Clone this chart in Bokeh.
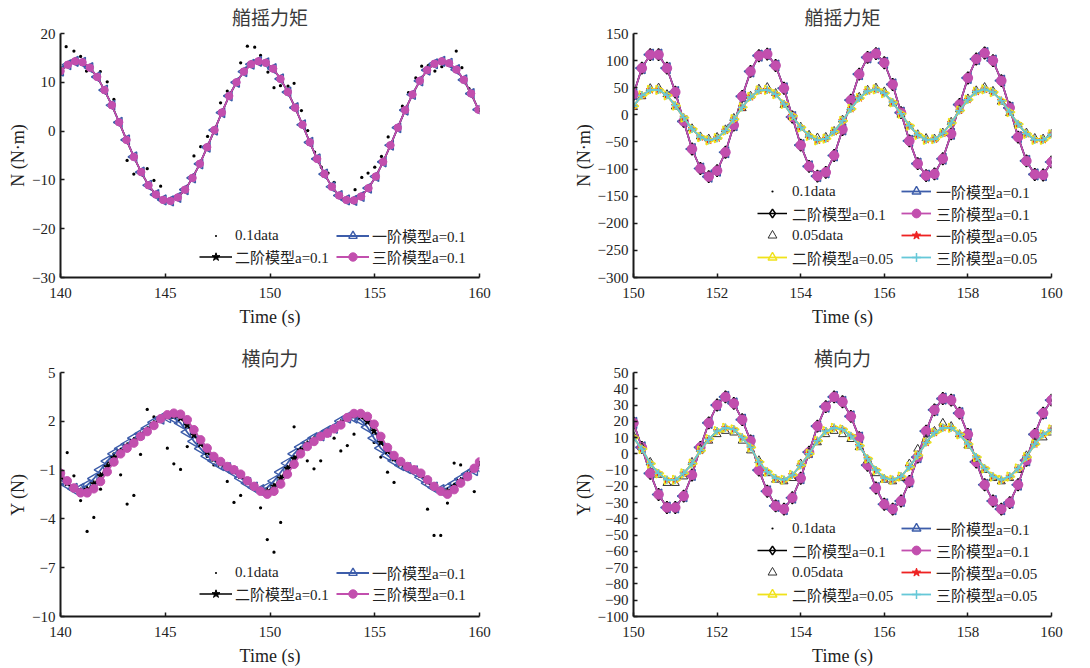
import math
from bokeh.plotting import figure
from bokeh.models import Range1d, FixedTicker, Legend, LegendItem
from bokeh.layouts import column, row
from bokeh.embed import file_html
from bokeh.resources import INLINE

FONT = "Liberation Serif, Noto Sans CJK SC"
BLUE = "#3d5daa"
MAG = "#c24fae"
BLACK = "#000000"
RED = "#ee2222"
YEL = "#f0e21a"
CYAN = "#66c8d8"

# ---------------- data: top-left (yaw moment, a=0.1) ----------------
tl_t = [140.0, 140.35, 140.7, 141.05, 141.4, 141.75, 142.1, 142.45, 142.8, 143.15,
        143.5, 143.85, 144.2, 144.55, 144.9, 145.25, 145.6, 145.95, 146.3, 146.65,
        147.0, 147.35, 147.7, 148.05, 148.4, 148.75, 149.1, 149.45, 149.8, 150.15,
        150.5, 150.85, 151.2, 151.55, 151.9, 152.25, 152.6, 152.95, 153.3, 153.65,
        154.0, 154.35, 154.7, 155.05, 155.4, 155.75, 156.1, 156.45, 156.8, 157.15,
        157.5, 157.85, 158.2, 158.55, 158.9, 159.25, 159.6, 159.95]
tl_model = [12.3, 13.6, 14.3, 14.1, 13.0, 11.1, 8.4, 5.3, 1.8, -1.8,
            -5.3, -8.4, -11.1, -13.0, -14.1, -14.3, -13.6, -12.0, -9.6, -6.7,
            -3.3, 0.2, 3.8, 7.2, 10.0, 12.2, 13.7, 14.3, 14.0, 12.8,
            10.7, 8.0, 4.8, 1.3, -2.3, -5.7, -8.8, -11.4, -13.2, -14.1,
            -14.2, -13.4, -11.7, -9.3, -6.3, -2.9, 0.7, 4.3, 7.5, 10.3,
            12.5, 13.8, 14.3, 13.9, 12.6, 10.5, 7.7, 4.4]
tl_data_t = [140.27, 140.64, 140.96, 141.24, 141.9, 142.23, 142.55, 143.18, 143.5, 144.14,
             144.46, 144.78, 146.37, 146.69, 147.02, 147.64, 147.96, 148.6, 148.92, 149.27,
             149.55, 149.9, 150.19, 150.5, 150.86, 151.15, 151.5, 151.8, 152.13, 152.45,
             152.77, 153.06, 153.38, 154.06, 154.38, 154.68, 155.0, 155.32, 155.64, 156.32,
             156.61, 156.96, 157.24, 157.55, 157.87, 158.2, 158.55, 158.89, 159.16, 159.5]
tl_data = [17.3, 16.4, 15.3, 12.3, 12.2, 10.1, 6.5, -6.0, -8.8, -7.7,
           -10.1, -11.3, -5.1, -3.2, -1.1, 5.8, 8.2, 14.0, 17.4, 17.2,
           15.5, 12.1, 8.9, 9.3, 9.2, 9.8, 4.2, 0.1, -4.3, -7.4,
           -8.6, -10.5, -13.1, -12.0, -9.5, -8.6, -7.4, -5.2, -1.2, 5.1,
           7.9, 10.9, 13.3, 13.4, 12.3, 13.2, 14.3, 16.4, 13.0, 8.7]

# ---------------- data: bottom-left (lateral force, a=0.1) ----------------
bl_t = [140.0, 140.32, 140.64, 140.96, 141.27, 141.59, 141.91, 142.23, 142.55, 142.87,
        143.18, 143.5, 143.82, 144.14, 144.46, 144.78, 145.1, 145.41, 145.73, 146.05,
        146.37, 146.69, 147.0, 147.32, 147.64, 147.96, 148.28, 148.6, 148.92, 149.24,
        149.55, 149.87, 150.19, 150.51, 150.83, 151.15, 151.46, 151.78, 152.1, 152.42,
        152.74, 153.06, 153.38, 153.69, 154.01, 154.33, 154.65, 154.97, 155.29, 155.61,
        155.92, 156.24, 156.56, 156.88, 157.2, 157.52, 157.83, 158.15, 158.47, 158.79,
        159.1, 159.43, 159.75, 160.0]
bl_m3 = [-1.19, -1.66, -2.10, -2.40, -2.40, -2.15, -1.70, -1.10, -0.50, 0.00,
         0.35, 0.66, 1.07, 1.37, 1.74, 2.15, 2.40, 2.50, 2.44, 2.10,
         1.48, 0.86, 0.35, -0.16, -0.47, -0.78, -0.98, -1.25, -1.66, -2.00,
         -2.30, -2.48, -2.30, -1.86, -1.25, -0.64, 0.00, 0.45, 0.76, 1.07,
         1.27, 1.54, 1.78, 2.23, 2.48, 2.48, 2.30, 1.82, 1.07, 0.39,
         -0.10, -0.47, -0.78, -0.98, -1.19, -1.60, -2.00, -2.30, -2.48, -2.20,
         -1.80, -1.40, -0.89, -0.50]
bl_m1 = [-1.6, -1.89, -2.16, -2.16, -1.94, -1.53, -0.99, -0.45, 0.0, 0.32,
         0.59, 0.96, 1.23, 1.57, 1.94, 2.16, 2.25, 2.20, 1.89, 1.33,
         0.77, 0.32, -0.14, -0.42, -0.70, -0.88, -1.13, -1.49, -1.80, -2.07,
         -2.23, -2.07, -1.67, -1.13, -0.58, 0.0, 0.41, 0.68, 0.96, 1.14,
         1.39, 1.60, 2.01, 2.23, 2.23, 2.07, 1.64, 0.96, 0.35, -0.09,
         -0.42, -0.70, -0.88, -1.07, -1.44, -1.80, -2.07, -2.23, -2.10, -1.85,
         -1.55, -1.25, -1.0, -0.85]
bl_m2 = [-1.4, -1.8, -2.15, -2.3, -2.2, -1.85, -1.35, -0.8, -0.25, 0.15,
         0.48, 0.8, 1.15, 1.47, 1.85, 2.15, 2.33, 2.35, 2.2, 1.75,
         1.15, 0.6, 0.1, -0.3, -0.6, -0.83, -1.05, -1.35, -1.72, -2.05,
         -2.27, -2.3, -2.0, -1.5, -0.9, -0.3, 0.22, 0.6, 0.86, 1.1,
         1.33, 1.57, 1.9, 2.25, 2.38, 2.3, 1.98, 1.4, 0.7, 0.15,
         -0.28, -0.6, -0.85, -1.03, -1.3, -1.7, -2.05, -2.28, -2.3, -2.0,
         -1.65, -1.3, -0.92, -0.65]
bl_data_t = [140.32, 140.64, 140.96, 141.27, 141.59, 141.91, 142.23, 142.55, 142.87, 143.18,
             143.5, 143.82, 144.14, 144.46, 145.1, 145.41, 145.73, 146.05, 147.0, 147.32,
             147.64, 147.96, 148.28, 148.6, 149.55, 149.87, 150.19, 150.51, 150.83, 151.15,
             151.46, 151.78, 152.1, 152.42, 153.06, 153.38, 153.69, 154.01, 154.97, 155.29,
             155.61, 155.92, 157.52, 157.83, 158.15, 158.47, 158.79, 159.1, 159.43, 159.75]
bl_data = [0.08, -1.35, -2.87, -4.77, -3.91, -2.17, -0.51, 0.0, -1.29, -3.09,
           -2.56, -0.04, 2.73, 2.27, 0.35, -0.61, -0.96, 0.45, -0.16, -0.68,
           -0.37, -1.70, -2.99, -2.56, -3.32, -5.27, -6.05, -4.22, -1.39, 1.66,
           0.25, -0.43, -0.92, -0.43, 0.96, 0.18, 0.51, 1.21, 0.70, -0.20,
           -1.13, -1.76, -3.40, -5.02, -5.02, -3.03, -0.57, -0.68, -1.54, -2.32]

# ---------------- data: right panels (a=0.1 and a=0.05) ----------------
r_t = [150.0, 150.2, 150.4, 150.6, 150.8, 151.0, 151.2, 151.4, 151.6, 151.8,
       152.0, 152.2, 152.4, 152.6, 152.8, 153.0, 153.2, 153.4, 153.6, 153.8,
       154.0, 154.2, 154.4, 154.6, 154.8, 155.0, 155.2, 155.4, 155.6, 155.8,
       156.0, 156.2, 156.4, 156.6, 156.8, 157.0, 157.2, 157.4, 157.6, 157.8,
       158.0, 158.2, 158.4, 158.6, 158.8, 159.0, 159.2, 159.4, 159.6, 159.8, 160.0]
tr_01 = [38, 86, 111, 111, 86, 42, -12, -63, -99, -114,
         -103, -69, -19, 34, 80, 109, 112, 91, 49, -4,
         -56, -95, -113, -106, -75, -27, 27, 75, 106, 113,
         96, 56, 4, -48, -90, -112, -109, -81, -35, 19,
         68, 103, 114, 100, 63, 13, -41, -85, -110, -111, -87]
tr_05 = [16, 36, 46, 46, 36, 17, -5, -26, -41, -47,
         -43, -29, -8, 14, 33, 45, 46, 38, 20, -2,
         -23, -39, -47, -44, -31, -11, 11, 31, 44, 47,
         40, 23, 2, -20, -37, -46, -45, -34, -15, 8,
         28, 43, 47, 42, 26, 5, -17, -35, -46, -46, -36]
tr_05data = [14, 34, 49, 50, 38, 15, -7, -25, -40, -44,
             -41, -27, -6, 12, 35, 48, 51, 40, 18, -4,
             -22, -37, -42, -41, -30, -9, 13, 33, 46, 50,
             43, 21, 0, -21, -36, -43, -44, -33, -13, 10,
             30, 45, 51, 44, 24, 3, -18, -33, -43, -44, -35]
br_01 = [19, 4, -12, -25, -33, -33, -26, -13, 4, 19,
         30, 35, 31, 21, 8, -10, -23, -32, -34, -27,
         -15, 1, 17, 29, 35, 32, 23, 10, -7, -21,
         -31, -34, -29, -17, -2, 14, 27, 34, 33, 25,
         12, -5, -19, -29, -34, -30, -19, -4, 12, 25, 33]
br_05 = [10, 3, -6, -12, -16, -16, -12, -6, 2, 9,
         14, 16, 15, 10, 4, -5, -11, -15, -16, -13,
         -7, 0, 8, 14, 16, 15, 11, 5, -3, -10,
         -15, -16, -14, -8, -1, 7, 13, 16, 16, 12,
         6, -2, -9, -14, -16, -14, -9, -2, 6, 12, 15]
br_05data = [11, 4, -5, -13, -18, -18, -14, -5, 3, 8,
             12, 14, 13, 8, 2, -4, -12, -16, -17, -15,
             -6, 1, 7, 12, 14, 12, 9, 4, -4, -12,
             -16, -17, -15, -6, 3, 9, 14, 19, 17, 12,
             5, -3, -10, -15, -17, -15, -10, -1, 7, 10, 13]

LAB = ["0.1data", "一阶模型a=0.1", "二阶模型a=0.1", "三阶模型a=0.1",
       "0.05data", "一阶模型a=0.05", "二阶模型a=0.05", "三阶模型a=0.05"]


def base_fig(w, ml, mr, mt, mb, xr, yr, xt, yt, title, ylabel, bottom_row):
    p = figure(width=w, height=334, x_range=Range1d(*xr), y_range=Range1d(*yr),
               output_backend="svg", toolbar_location=None,
               min_border_left=ml, min_border_right=mr, min_border_top=mt, min_border_bottom=mb)
    p.title.text = title
    p.title.align = "center"
    p.title.text_font = FONT
    p.title.text_font_size = "19px"
    p.title.text_font_style = "normal"
    p.title.text_color = "#3a3a3a"
    p.title.standoff = 6 if bottom_row else 10
    p.grid.visible = False
    p.outline_line_color = None
    p.xaxis.ticker = FixedTicker(ticks=xt)
    p.yaxis.ticker = FixedTicker(ticks=yt)
    p.xaxis.axis_label = "Time (s)"
    p.yaxis.axis_label = ylabel
    for ax in (p.xaxis[0], p.yaxis[0]):
        ax.axis_line_width = 2
        ax.axis_line_color = "#1a1a1a"
        ax.major_tick_in = 4
        ax.major_tick_out = 0
        ax.major_tick_line_width = 1.5
        ax.major_tick_line_color = "#1a1a1a"
        ax.minor_tick_line_color = None
        ax.major_label_text_font = FONT
        ax.major_label_text_font_size = "15px"
        ax.major_label_text_color = "#222222"
        ax.axis_label_text_font = FONT
        ax.axis_label_text_font_size = "18px"
        ax.axis_label_text_font_style = "normal"
        ax.axis_label_text_color = "#222222"
    p.yaxis.major_label_standoff = 5
    p.yaxis.axis_label_standoff = 1
    p.xaxis.major_label_standoff = 10
    p.xaxis.axis_label_standoff = 6
    return p


def series(p, t, y, color, marker, size, fill=None, angle=0.0, lw=1.8, mlw=1.3, line=True):
    rs = []
    if line:
        rs.append(p.line(t, y, line_color=color, line_width=lw))
    rs.append(p.scatter(t, y, marker=marker, size=size, line_color=color,
                        fill_color=fill, angle=angle, line_width=mlw))
    return rs


def add_legend(p, items, loc, gw, gh, lw, standoff):
    leg = Legend(items=items, location=loc, ncols=2, orientation="vertical",
                 background_fill_alpha=0, border_line_color=None, padding=0, margin=0,
                 spacing=0, glyph_width=gw, glyph_height=gh, label_height=gh,
                 label_width=lw, label_standoff=standoff,
                 label_text_font=FONT, label_text_font_size="15px",
                 label_text_color="#222222")
    p.add_layout(leg)


def left_panel(t, m1, m2, m3, dt, d, yr, yt, title, ylabel, bottom_row, tri, mag, loc):
    mt, mb = (38, 52) if bottom_row else (33, 57)
    p = base_fig(545, 60, 66, mt, mb, (140, 160), yr, [140, 145, 150, 155, 160], yt,
                 title, ylabel, bottom_row)
    r0 = p.scatter(dt, d, marker="dot", size=13, line_color=BLACK, fill_color=BLACK,
                   line_width=1)
    r1 = series(p, t, m1, BLUE, "triangle", tri, fill=None, angle=math.pi / 2, mlw=1.4)
    r2 = series(p, t, m2, BLACK, "star", 7, fill=BLACK, lw=1.5, mlw=1)
    r3 = series(p, t, m3, MAG, "circle", mag, fill=MAG, mlw=1)
    items = [LegendItem(label=LAB[0], renderers=[r0]),
             LegendItem(label=LAB[2], renderers=r2),
             LegendItem(label=LAB[1], renderers=r1),
             LegendItem(label=LAB[3], renderers=r3)]
    add_legend(p, items, loc, 33, 21, 101, 3)
    return p


def right_panel(y01, y05, d05, yr, yt, title, ylabel, bottom_row, loc):
    mt, mb = (38, 52) if bottom_row else (33, 57)
    p = base_fig(545, 88, 39, mt, mb, (150, 160), yr, [150, 152, 154, 156, 158, 160], yt,
                 title, ylabel, bottom_row)
    r0 = p.scatter(r_t, y01, marker="dot", size=13, line_color=BLACK, fill_color=BLACK,
                   line_width=1)
    r1 = series(p, r_t, y01, BLUE, "triangle", 11, fill=None, angle=math.pi / 2, mlw=1.4)
    r2 = series(p, r_t, y01, BLACK, "diamond", 12, fill=None, lw=1.5, mlw=1.5)
    r3 = series(p, r_t, y01, MAG, "circle", 9.5, fill=MAG, mlw=1)
    r4 = p.scatter(r_t, d05, marker="triangle", size=8, line_color="#333333", fill_color=None,
                   line_width=1)
    r5 = series(p, r_t, y05, RED, "star", 8, fill=RED, mlw=1)
    r6 = series(p, r_t, y05, YEL, "triangle", 9, fill=None, angle=-math.pi / 2, mlw=1.4)
    r7 = series(p, r_t, y05, CYAN, "cross", 8, fill=None, mlw=1.5)
    items = [LegendItem(label=LAB[0], renderers=[r0]),
             LegendItem(label=LAB[2], renderers=r2),
             LegendItem(label=LAB[4], renderers=[r4]),
             LegendItem(label=LAB[6], renderers=r6),
             LegendItem(label=LAB[1], renderers=r1),
             LegendItem(label=LAB[3], renderers=r3),
             LegendItem(label=LAB[5], renderers=r5),
             LegendItem(label=LAB[7], renderers=r7)]
    add_legend(p, items, loc, 30, 22, 109, 5)
    return p


p_tl = left_panel(tl_t, tl_model, tl_model, tl_model, tl_data_t, tl_data, (-30, 20),
                  [-30, -20, -10, 0, 10, 20], "艏摇力矩", "N (N·m)", False, 10, 7.5, (139, 10))
p_bl = left_panel(bl_t, bl_m1, bl_m2, bl_m3, bl_data_t, bl_data, (-10, 5),
                  [-10, -7, -4, -1, 2, 5], "横向力", "Y (N)", True, 11, 8.5, (139, 12))
p_tr = right_panel(tr_01, tr_05, tr_05data, (-300, 150), list(range(-300, 151, 50)),
                   "艏摇力矩", "N (N·m)", False, (124, 9))
p_br = right_panel(br_01, br_05, br_05data, (-100, 50), list(range(-100, 51, 10)),
                   "横向力", "Y (N)", True, (124, 11))

layout = column(row(p_tl, p_tr), row(p_bl, p_br))
open("out.html", "w").write(file_html(layout, INLINE))
